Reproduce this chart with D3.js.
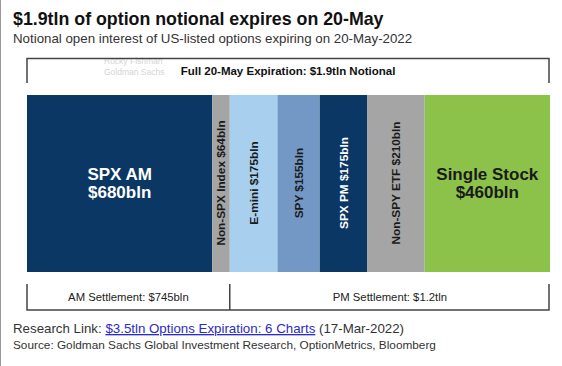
<!DOCTYPE html>
<html>
<head>
<meta charset="utf-8">
<script src="https://cdn.jsdelivr.net/npm/d3@7"></script>
<style>
  body { margin: 0; background: #fff; }
  svg text { font-family: "Liberation Sans", Arial, sans-serif; }
</style>
</head>
<body>
<svg id="chart"></svg>
<script>
// segment data (billions of notional)
var categories = ["SPX AM", "Non-SPX Index", "E-mini", "SPY", "SPX PM", "Non-SPY ETF", "Single Stock"];
var values = [680, 64, 175, 155, 175, 210, 460];
var labels = ["$680bln", "$64bln", "$175bln", "$155bln", "$175bln", "$210bln", "$460bln"];
var fills = ["#0b3764", "#a5a5a5", "#a9cfee", "#7398c6", "#0b3764", "#a5a5a5", "#8cc24a"];
var textFills = ["#ffffff", "#1a1a1a", "#1a1a1a", "#1a1a1a", "#ffffff", "#1a1a1a", "#1a1a1a"];

// settlement groups
var groups = ["AM Settlement: $745bln", "PM Settlement: $1.2tln"];
var groupSplit = 2; // first two segments settle AM

var svgWidth = 562;
var svgHeight = 366;

var svg = d3.select("#chart")
  .attr("width", svgWidth)
  .attr("height", svgHeight);

// left page border
svg.append("line")
  .attr("x1", 0.5).attr("x2", 0.5)
  .attr("y1", 0).attr("y2", svgHeight)
  .attr("stroke", "#9a9a9a").attr("stroke-width", 1);

// title + subtitle
svg.append("text")
  .attr("x", 13).attr("y", 25)
  .attr("font-size", 17.8).attr("font-weight", "bold")
  .attr("fill", "#111")
  .text("$1.9tln of option notional expires on 20-May");

svg.append("text")
  .attr("x", 13).attr("y", 43)
  .attr("font-size", 13.3)
  .attr("fill", "#333")
  .text("Notional open interest of US-listed options expiring on 20-May-2022");

// cumulative positions
var data = [];
var run = 0;
values.forEach(function(v, i) {
  data.push({ cat: categories[i], label: labels[i], v: v, x0: run, x1: run + v, fill: fills[i], tfill: textFills[i] });
  run += v;
});
var total = run;

var x = d3.scaleLinear()
  .domain([0, total])
  .range([27, 550]);

var barTop = 95, barBottom = 272;

// top bracket
var topG = svg.append("g");
topG.append("text")
  .attr("x", 104).attr("y", 64)
  .attr("font-size", 8.5).attr("fill", "#d4d4d4")
  .text("Rocky Fishman");
topG.append("text")
  .attr("x", 104).attr("y", 75)
  .attr("font-size", 8.5).attr("fill", "#d4d4d4")
  .text("Goldman Sachs");

topG.append("path")
  .attr("d", `M${x(0)},83 V58.5 H${x(total) - 1} V83`)
  .attr("fill", "none").attr("stroke", "#444").attr("stroke-width", 1.5);

topG.append("text")
  .attr("x", 288).attr("y", 75)
  .attr("text-anchor", "middle")
  .attr("font-size", 11.5).attr("font-weight", "bold").attr("fill", "#111")
  .text("Full 20-May Expiration: $1.9tln Notional");

// bars
var seg = svg.selectAll("g.seg")
  .data(data)
  .enter()
  .append("g")
  .attr("class", "seg");

seg.append("rect")
  .attr("x", d => x(d.x0))
  .attr("y", barTop)
  .attr("width", d => x(d.x1) - x(d.x0))
  .attr("height", barBottom - barTop)
  .attr("fill", d => d.fill);

// big labels for wide segments
var wide = seg.filter(d => d.v > 400);
wide.append("text")
  .attr("text-anchor", "middle")
  .attr("x", d => (x(d.x0) + x(d.x1)) / 2)
  .attr("y", 180)
  .attr("font-size", 17).attr("font-weight", "bold")
  .attr("fill", d => d.tfill)
  .text(d => d.cat);
wide.append("text")
  .attr("text-anchor", "middle")
  .attr("x", d => (x(d.x0) + x(d.x1)) / 2)
  .attr("y", 198)
  .attr("font-size", 17).attr("font-weight", "bold")
  .attr("fill", d => d.tfill)
  .text(d => d.label);

// rotated labels for the narrow ones
seg.filter(d => d.v <= 400)
  .append("text")
  .attr("transform", d => `translate(${(x(d.x0) + x(d.x1)) / 2 + 4},183) rotate(-90)`)
  .attr("text-anchor", "middle")
  .attr("font-size", 11.8).attr("font-weight", "bold")
  .attr("fill", d => d.tfill)
  .text(d => d.cat + " " + d.label);

// bottom bracket
var amEnd = d3.sum(values.slice(0, groupSplit));
var bot = svg.append("g");
bot.append("path")
  .attr("d", `M${x(0)},284 V310 H${x(total) - 1} V284 M${x(amEnd)},284 V310`)
  .attr("fill", "none").attr("stroke", "#444").attr("stroke-width", 1.5);

bot.selectAll("text")
  .data(groups)
  .enter()
  .append("text")
  .attr("x", (d, i) => i === 0 ? (x(0) + x(amEnd)) / 2 : (x(amEnd) + x(total)) / 2)
  .attr("y", 301)
  .attr("text-anchor", "middle")
  .attr("font-size", 11.3).attr("fill", "#222")
  .text(d => d);

// footnotes
var foot = svg.append("text")
  .attr("x", 13).attr("y", 333)
  .attr("font-size", 13.3).attr("fill", "#333");
foot.append("tspan").text("Research Link: ");
foot.append("tspan").attr("fill", "#2b2bc8").attr("text-decoration", "underline")
  .text("$3.5tln Options Expiration: 6 Charts");
foot.append("tspan").text(" (17-Mar-2022)");

svg.append("text")
  .attr("x", 13).attr("y", 349)
  .attr("font-size", 11.8).attr("fill", "#333")
  .text("Source: Goldman Sachs Global Investment Research, OptionMetrics, Bloomberg");
</script>
</body>
</html>
